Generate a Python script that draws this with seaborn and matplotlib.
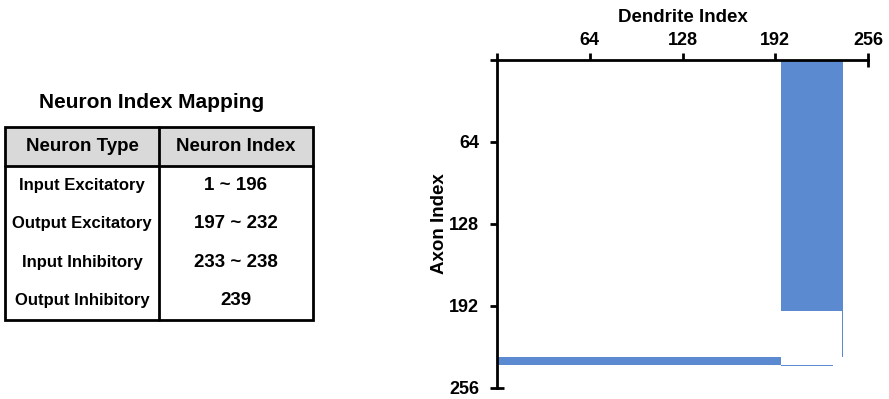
import numpy as np
import pandas as pd
import matplotlib
matplotlib.use("Agg")
import matplotlib.pyplot as plt
from matplotlib.colors import ListedColormap
from matplotlib.patches import Rectangle
import seaborn as sns

# ---- data ----
neuron_types = ["Input Excitatory", "Output Excitatory", "Input Inhibitory", "Output Inhibitory"]
index_labels = ["1 ~ 196", "197 ~ 232", "233 ~ 238", "239"]
# connections (axon source row range -> dendrite target column range), 1-based inclusive
conn_rows = [(1, 196), (197, 232), (233, 238), (239, 239)]
conn_cols = [(197, 239), (239, 239), (1, 196), (197, 232)]
n_total = 256
axis_ticks = [64, 128, 192]
end_tick = [256]

# ---- matrix ----
mat = np.zeros((n_total, n_total))
for (r0, r1), (c0, c1) in zip(conn_rows, conn_cols):
    mat[r0 - 1:r1, c0 - 1:c1] = 1
df = pd.DataFrame(mat)

sns.set_theme(style="white")
plt.rcParams["font.family"] = ["Liberation Sans", "DejaVu Sans"]
plt.rcParams["text.color"] = "black"
plt.rcParams["axes.labelcolor"] = "black"
plt.rcParams["xtick.color"] = "black"
plt.rcParams["ytick.color"] = "black"

W, H = 889, 399
fig = plt.figure(figsize=(W / 100, H / 100), dpi=100)

ax = fig.add_axes([497 / W, 1 - 388 / H, (868 - 497) / W, (388 - 60) / H])
sns.heatmap(df, mask=(mat == 0), cmap=ListedColormap(["#5b8ad1"]), cbar=False,
            ax=ax, xticklabels=False, yticklabels=False)
ax.set_xlim(0, n_total)
ax.set_ylim(n_total, 0)
ax.xaxis.tick_top()
ax.xaxis.set_label_position("top")
ax.set_xticks([0] + axis_ticks)
ax.set_xticklabels([""] + [str(t) for t in axis_ticks])
ax.set_yticks([0] + axis_ticks)
ax.set_yticklabels([""] + [str(t) for t in axis_ticks])
ax.set_xticks(end_tick, minor=True)
ax.set_xticklabels([str(t) for t in end_tick], minor=True)
ax.set_yticks(end_tick, minor=True)
ax.set_yticklabels([str(t) for t in end_tick], minor=True)
ax.tick_params(axis="both", which="major", direction="out", length=5, width=2,
               color="black", labelsize=13,
               top=True, bottom=False, left=True, right=False,
               labeltop=True, labelbottom=False)
ax.tick_params(axis="both", which="minor", direction="inout", length=10, width=2,
               color="black", labelsize=13,
               top=True, bottom=False, left=True, right=False,
               labeltop=True, labelbottom=False)
ax.tick_params(axis="x", which="both", pad=3)
ax.tick_params(axis="y", which="both", pad=8)
for lab in ax.get_xticklabels(which="both") + ax.get_yticklabels(which="both"):
    lab.set_fontweight("bold")
ax.set_xlabel("Dendrite Index", fontsize=13.5, fontweight="bold", labelpad=7)
ax.set_ylabel("Axon Index", fontsize=13.5, fontweight="bold", labelpad=1)
for s in ("top", "left"):
    ax.spines[s].set_visible(True)
    ax.spines[s].set_linewidth(2)
    ax.spines[s].set_color("black")
for s in ("right", "bottom"):
    ax.spines[s].set_visible(False)

# ---- table ----
tax = fig.add_axes([0, 0, 1, 1])
tax.set_xlim(0, W)
tax.set_ylim(H, 0)
tax.axis("off")
tax.text(152, 103, "Neuron Index Mapping", ha="center", va="center",
         fontsize=15, fontweight="bold")
x0, x1, xm = 5, 313, 159
y0 = 127
hdr_h = 39
row_h = 38.5
y_end = y0 + hdr_h + row_h * len(neuron_types)
tax.add_patch(Rectangle((x0, y0), x1 - x0, hdr_h, facecolor="#d9d9d9", edgecolor="none"))
tax.add_patch(Rectangle((x0, y0), x1 - x0, y_end - y0, facecolor="none",
                        edgecolor="black", linewidth=2))
tax.plot([xm, xm], [y0, y_end], color="black", lw=2)
tax.plot([x0, x1], [y0 + hdr_h, y0 + hdr_h], color="black", lw=2)
tax.text((x0 + xm) / 2, y0 + hdr_h / 2, "Neuron Type", ha="center", va="center",
         fontsize=13.5, fontweight="bold")
tax.text((xm + x1) / 2, y0 + hdr_h / 2, "Neuron Index", ha="center", va="center",
         fontsize=13.5, fontweight="bold")
for i, (nt, il) in enumerate(zip(neuron_types, index_labels)):
    yc = y0 + hdr_h + row_h * (i + 0.5)
    tax.text((x0 + xm) / 2, yc, nt, ha="center", va="center", fontsize=12, fontweight="bold")
    tax.text((xm + x1) / 2, yc, il, ha="center", va="center", fontsize=13.5, fontweight="bold")

fig.savefig("out.png", dpi=100)
